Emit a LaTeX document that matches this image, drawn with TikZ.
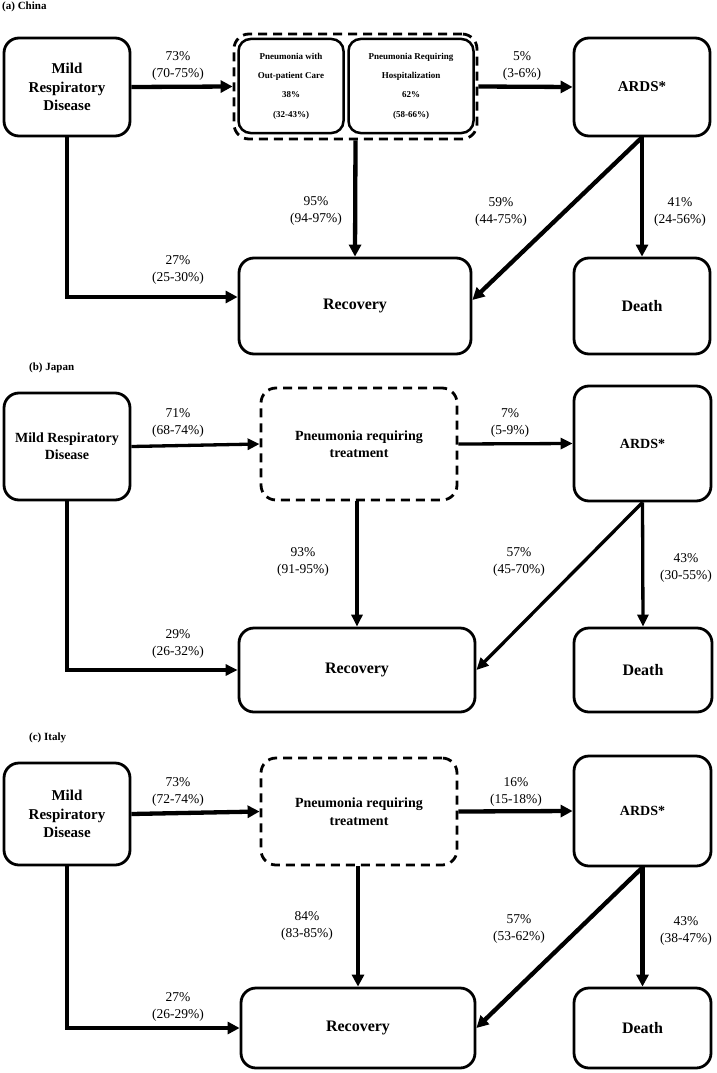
\documentclass[tikz,border=0pt]{standalone}
\usepackage{fontspec}
\setmainfont{Liberation Serif}
\usetikzlibrary{arrows.meta}
\tikzset{
  box/.style={draw, line width=2.8pt, rounded corners=15pt, align=center, inner sep=0pt,
    font=\bfseries\fontsize{15}{18.5}\selectfont},
  dbox/.style={box, dash pattern=on 9pt off 6pt},
  ibox/.style={draw, line width=2.5pt, rounded corners=12pt, align=center, inner sep=0pt,
    font=\bfseries\fontsize{9}{19.3}\selectfont},
  lab/.style={align=center, inner sep=0pt, font=\fontsize{13.5}{17}\selectfont},
  ttl/.style={anchor=west, inner sep=0pt, font=\bfseries\fontsize{11}{13}\selectfont},
  arr/.style={line width=4.3pt, -{Triangle[length=12pt,width=12pt]}},
  arrb/.style={line width=3.3pt, -{Triangle[length=12pt,width=11pt]}},
}
\begin{document}
\begin{tikzpicture}[x=1pt,y=1pt]
\useasboundingbox (0,0) rectangle (716,-1073);

% ---------------- (a) China ----------------
\node[ttl] (tA) at (2,-7) {(a) China};
\node[box, minimum width=126pt, minimum height=98pt] (mildA) at (67,-87) {Mild\\Respiratory\\Disease};
\node[dbox, minimum width=243pt, minimum height=105pt] (grpA) at (355.5,-86.5) {};
\node[ibox, minimum width=105pt, minimum height=94pt] (p1A) at (291,-86) {Pneumonia with\\Out-patient Care\\38\%\\(32-43\%)};
\node[ibox, minimum width=125pt, minimum height=94pt] (p2A) at (411,-86) {Pneumonia Requiring\\Hospitalization\\62\%\\(58-66\%)};
\node[box, minimum width=136pt, minimum height=98pt] (ardsA) at (642,-87) {ARDS*};
\node[box, minimum width=232pt, minimum height=96pt, font=\bfseries\fontsize{16}{19}\selectfont] (recA) at (355,-306) {Recovery};
\node[box, minimum width=136pt, minimum height=96pt, font=\bfseries\fontsize{16}{19}\selectfont] (deathA) at (642,-306) {Death};

\draw[arr] (mildA.east) -- (grpA.west);
\draw[arr] (grpA.east) -- (ardsA.west);
\draw[arr] (grpA.south) -- (recA.north);
\draw[arr] (ardsA.south) -- (deathA.north);
\draw[arr] (ardsA.south) -- ([yshift=6pt]recA.east);
\draw[arr] (mildA.south) |- ([yshift=9pt]recA.west);

\node[lab] (lA1) at (178,-66) {73\%\\(70-75\%)};
\node[lab] (lA2) at (522,-66) {5\%\\(3-6\%)};
\node[lab] (lA3) at (316,-211) {95\%\\(94-97\%)};
\node[lab] (lA4) at (501,-212) {59\%\\(44-75\%)};
\node[lab] (lA5) at (680,-212) {41\%\\(24-56\%)};
\node[lab] (lA6) at (178,-270) {27\%\\(25-30\%)};

% ---------------- (b) Japan ----------------
\node[ttl] (tB) at (29,-368) {(b) Japan};
\node[box, minimum width=126pt, minimum height=107pt, font=\bfseries\fontsize{14}{17}\selectfont] (mildB) at (67,-446.5) {Mild Respiratory\\Disease};
\node[dbox, minimum width=196pt, minimum height=112pt, font=\bfseries\fontsize{14}{17}\selectfont] (pnB) at (359,-444) {Pneumonia requiring\\treatment};
\node[box, minimum width=137pt, minimum height=115pt, font=\bfseries\fontsize{14}{17}\selectfont] (ardsB) at (642.5,-443.5) {ARDS*};
\node[box, minimum width=236pt, minimum height=84pt, font=\bfseries\fontsize{16}{19}\selectfont] (recB) at (357,-670) {Recovery};
\node[box, minimum width=138pt, minimum height=84pt, font=\bfseries\fontsize{16}{19}\selectfont] (deathB) at (643,-670) {Death};

\draw[arrb] (mildB.east) -- (pnB.west);
\draw[arrb] (pnB.east) -- (ardsB.west);
\draw[arrb] (pnB.south -| recB.north) -- (recB.north);
\draw[arrb] (ardsB.south) -- (deathB.north);
\draw[arrb] (ardsB.south) -- (recB.east);
\draw[arrb] (mildB.south) |- (recB.west);

\node[lab] (lB1) at (178,-423) {71\%\\(68-74\%)};
\node[lab] (lB2) at (510,-423) {7\%\\(5-9\%)};
\node[lab] (lB3) at (303,-562) {93\%\\(91-95\%)};
\node[lab] (lB4) at (519,-562) {57\%\\(45-70\%)};
\node[lab] (lB5) at (686,-568) {43\%\\(30-55\%)};
\node[lab] (lB6) at (178,-644) {29\%\\(26-32\%)};

% ---------------- (c) Italy ----------------
\node[ttl] (tC) at (29,-738) {(c) Italy};
\node[box, minimum width=126pt, minimum height=102pt] (mildC) at (67,-814) {Mild\\Respiratory\\Disease};
\node[dbox, minimum width=196pt, minimum height=107pt, font=\bfseries\fontsize{14}{18}\selectfont] (pnC) at (359,-811.5) {Pneumonia requiring\\treatment};
\node[box, minimum width=137pt, minimum height=110pt, font=\bfseries\fontsize{14}{17}\selectfont] (ardsC) at (642.5,-811) {ARDS*};
\node[box, minimum width=234pt, minimum height=80pt, font=\bfseries\fontsize{16}{19}\selectfont] (recC) at (358,-1028) {Recovery};
\node[box, minimum width=137pt, minimum height=80pt, font=\bfseries\fontsize{16}{19}\selectfont] (deathC) at (642.5,-1028) {Death};

\draw[arr] (mildC.east) -- (pnC.west);
\draw[arr] (pnC.east) -- (ardsC.west);
\draw[arr] (pnC.south -| recC.north) -- (recC.north);
\draw[arr] (ardsC.south) -- (deathC.north);
\draw[arr] (ardsC.south) -- (recC.east);
\draw[arr] (mildC.south) |- (recC.west);

\node[lab] (lC1) at (178,-792) {73\%\\(72-74\%)};
\node[lab] (lC2) at (516,-792) {16\%\\(15-18\%)};
\node[lab] (lC3) at (307,-926) {84\%\\(83-85\%)};
\node[lab] (lC4) at (519,-929) {57\%\\(53-62\%)};
\node[lab] (lC5) at (686,-931) {43\%\\(38-47\%)};
\node[lab] (lC6) at (178,-1007) {27\%\\(26-29\%)};
\end{tikzpicture}
\end{document}
